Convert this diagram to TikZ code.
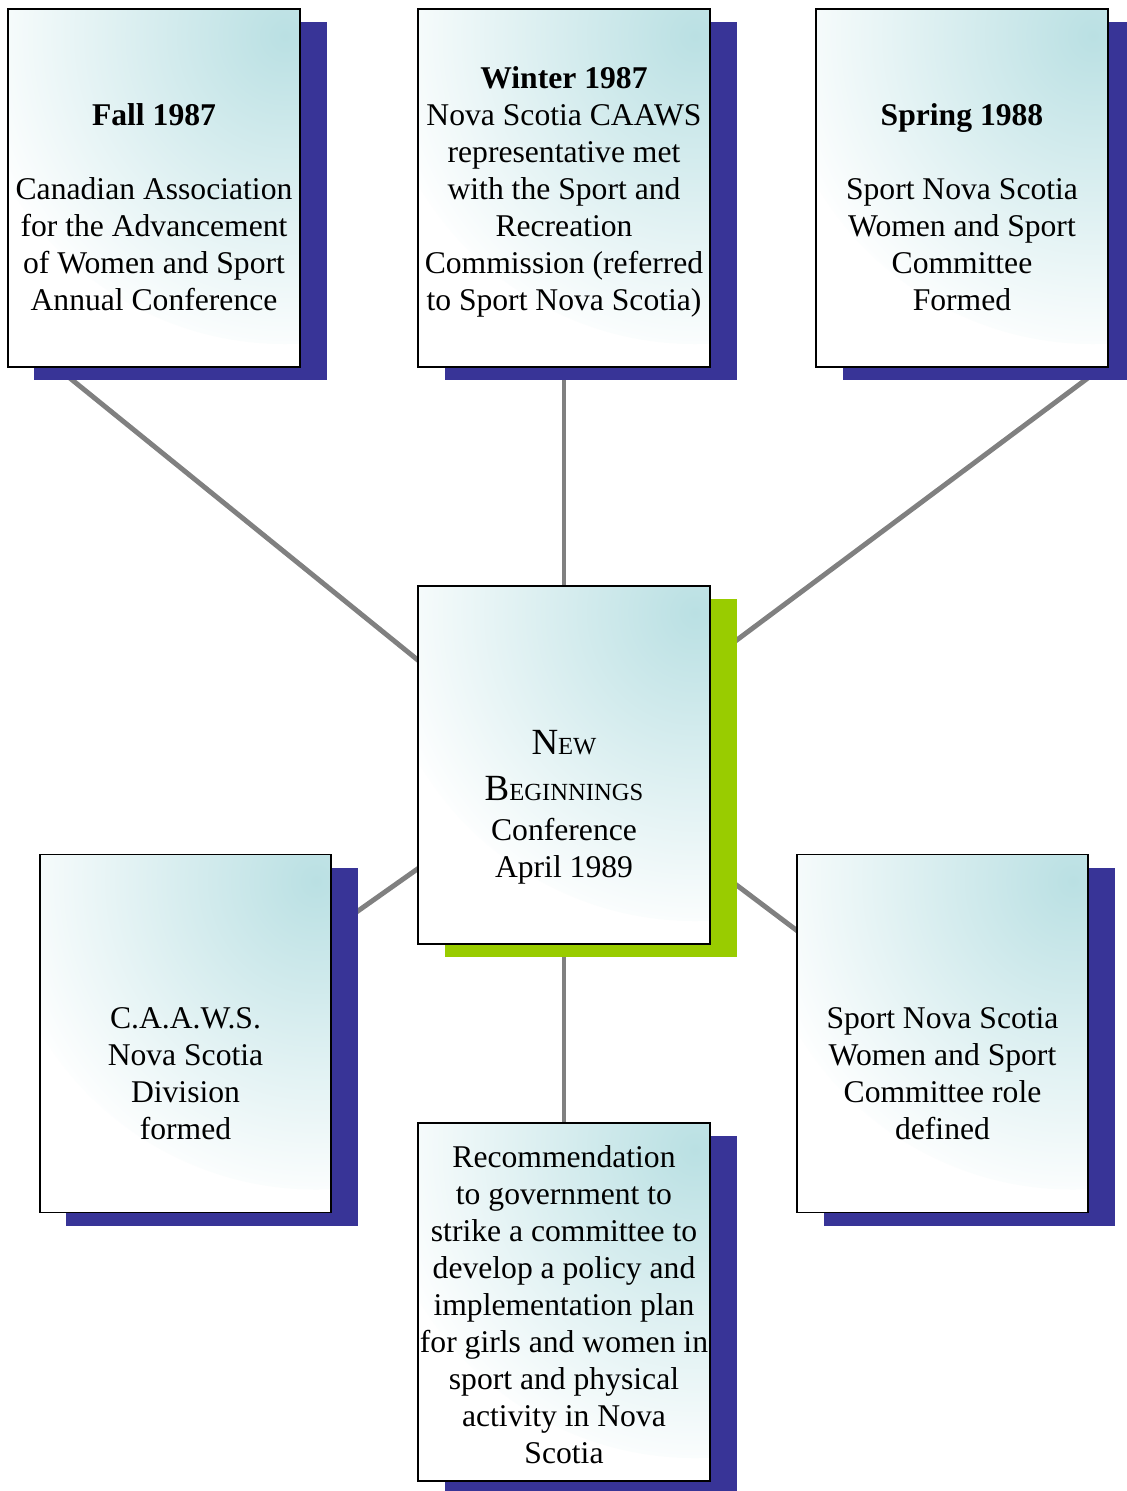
\documentclass[tikz,border=0pt]{standalone}
\usepackage{fontspec}
\setmainfont{Liberation Serif}
\usepackage{tikz}
\usetikzlibrary{shadows}
\usetikzlibrary{backgrounds}
\usepackage{xcolor}
\definecolor{ColTeal}{RGB}{186,224,227}
\definecolor{ColBlue}{RGB}{56,52,151}
\definecolor{ColGreen}{RGB}{153,204,0}
\definecolor{ColLine}{RGB}{128,128,128}
\tikzstyle{BoxNode}=[rectangle,draw=black,line width=1pt,fill=white,
path picture={\shade[inner color=ColTeal,outer color=white]
    ([shift={(-15,15)}]path picture bounding box.north east)circle(64mm);},
minimum width=58.4mm,minimum height=71.6mm,inner sep=0pt,align=center,
font=\fontsize{18}{21}\selectfont]
\tikzstyle{BlueShadow}=[drop shadow={shadow xshift=5.3mm,shadow yshift=-2.6mm,fill=ColBlue,
draw=none,opacity=1}]
\tikzstyle{GreenShadow}=[drop shadow={shadow xshift=5.3mm,shadow yshift=-2.6mm,fill=ColGreen,
draw=none,opacity=1}]
\tikzstyle{EdgeLine}=[ColLine,line width=2.8pt]
\newcommand{\FakeSC}[2]{{\fontsize{21}{26}\selectfont #1\fontsize{14}{26}\selectfont #2}}

\begin{document}
\begin{tikzpicture}[x=0.2mm,y=-0.2mm]
        \useasboundingbox(0,0)rectangle(1127,1491);
        \node[BoxNode,BlueShadow](fall)at(154,188){~\\[13.6pt]\textbf{Fall 1987}\\[21pt]Canadian Association\\
            for the Advancement\\of Women and Sport\\Annual Conference};
        \node[BoxNode,BlueShadow](winter)at(564,188){\rule{0pt}{16.7pt}\textbf{Winter 1987}\\Nova Scotia CAAWS\\
            representative met\\with the Sport and\\Recreation\\Commission (referred\\to Sport Nova Scotia)};
        \node[BoxNode,BlueShadow](spring)at(962,188){~\\[13.6pt]\textbf{Spring 1988}\\[21pt]Sport Nova Scotia\\
            Women and Sport\\Committee\\Formed};
        \node[BoxNode,GreenShadow](centre)at(564,765){~\\[41pt]\FakeSC{N}{EW}\\[5pt]\FakeSC{B}{EGINNINGS}\\[2pt]
            Conference\\April 1989};
        \node[BoxNode,BlueShadow,minimum width=58.2mm](caaws)at(185.5,1033.5){~\\[37pt]C.A.A.W.S.\\
            Nova Scotia\\Division\\formed};
        \node[BoxNode,BlueShadow,minimum width=58.2mm](role)at(942.5,1033.5){~\\[37pt]Sport Nova Scotia\\
            Women and Sport\\Committee role\\defined};
        \node[BoxNode,BlueShadow](recom)at(564,1302){\rule{0pt}{15.6pt}Recommendation\\to government to\\
            strike a committee to\\develop a policy and\\implementation plan\\for girls and women in\\
            sport and physical\\activity in Nova\\Scotia};
        % connectors behind the boxes
        \begin{pgfonlayer}{background}
        \draw[EdgeLine]([shift={(28,-18)}]fall.south west)--([shift={(23,93)}]centre.north west);
        \draw[EdgeLine](winter)--(centre);
        \draw[EdgeLine]([shift={(6,-10)}]spring.south east)--([shift={(3,72)}]centre.north east);
        \draw[EdgeLine]([shift={(11,68)}]caaws.north east)--([shift={(16,-87)}]centre.south west);
        \draw[EdgeLine]([shift={(11,109)}]centre.east)--([shift={(16,-91.5)}]role.west);
        \draw[EdgeLine](centre)--(recom);
        \end{pgfonlayer}
    \end{tikzpicture}
\end{document}
